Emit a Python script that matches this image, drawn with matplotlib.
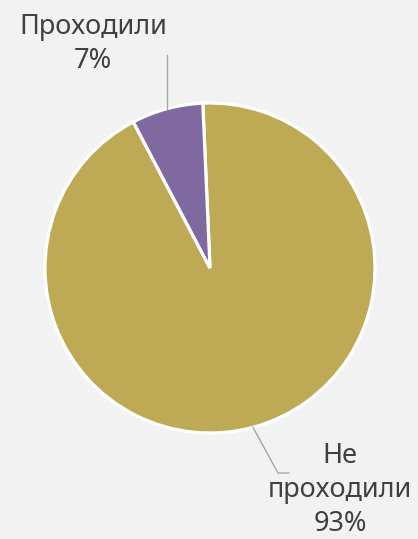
import numpy as np
import matplotlib.pyplot as plt

labels = ['Не\nпроходили', 'Проходили']
values = [93, 7]
colors = ['#BEAA55', '#8069A0']

W, H = 418, 539
fig = plt.figure(figsize=(W / 100, H / 100), dpi=100, facecolor='#F2F2F2')
ax = fig.add_axes([0, 0, 1, 1])

cx, cy, r = 210, 271, 165
start = 92.5
wedges, _ = ax.pie(values, colors=colors, startangle=start, counterclock=False,
                   center=(cx, cy), radius=r, frame=True,
                   wedgeprops=dict(edgecolor='white', linewidth=2.3))
ax.set_xlim(0, W)
ax.set_ylim(0, H)
ax.set_aspect('equal')
ax.axis('off')

# leader lines from slice middles
def edge_point(w):
    a = np.deg2rad((w.theta1 + w.theta2) / 2)
    return cx + r * np.cos(a), cy + r * np.sin(a)

x0, y0 = edge_point(wedges[1])
ax.plot([x0, x0], [y0, H - 55], color='#A6A6A6', lw=1)
x1, y1 = edge_point(wedges[0])
ax.plot([x1, x1 + 25, x1 + 36], [y1, H - 473, H - 473], color='#A6A6A6', lw=1)

tstyle = dict(ha='center', va='center', color='#404040', fontsize=19.5,
              family='Noto Sans', linespacing=1.3)
ax.text(93, H - 44, f'{labels[1]}\n{values[1]}%', **tstyle)
ax.text(340, H - 490, f'{labels[0]}\n{values[0]}%', **tstyle)

fig.savefig('out.png', dpi=100, facecolor=fig.get_facecolor())
